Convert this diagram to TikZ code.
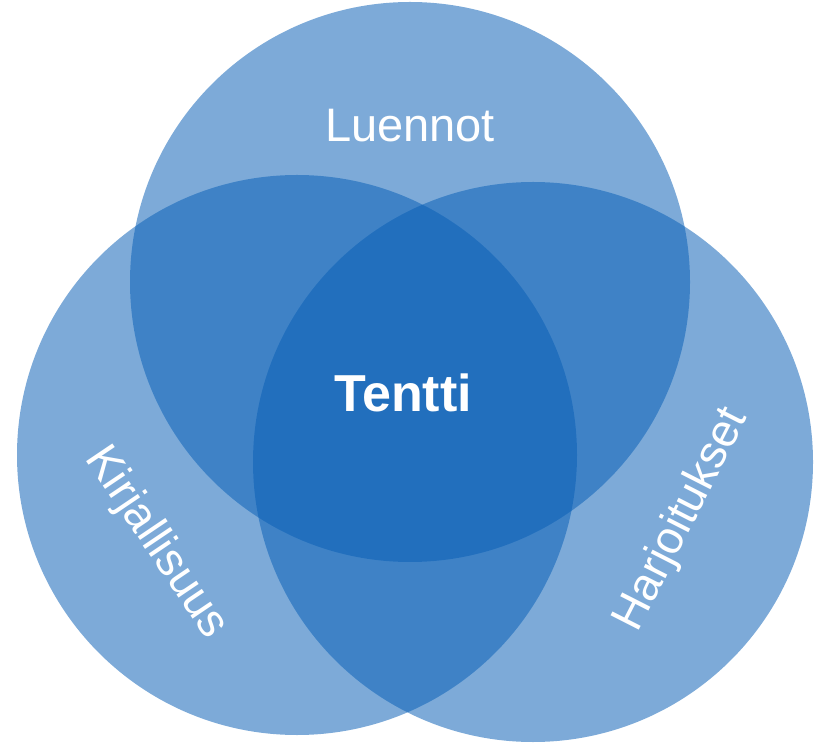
\documentclass[tikz,border=0pt]{standalone}
\usepackage{fontspec}
\setmainfont{Liberation Sans}
\definecolor{vennblue}{RGB}{9,95,182}
\tikzset{
  venn/.style={fill=vennblue,fill opacity=0.53},
  label/.style={text=white,inner sep=0pt,font=\fontsize{46}{55}\selectfont}
}
\begin{document}
\begin{tikzpicture}[x=1pt,y=1pt]
    \useasboundingbox (0,0) rectangle (816,742);
    \fill[venn] (410,460) circle (280);
    \fill[venn] (297,287) circle (280);
    \fill[venn] (533,280) circle (280);
    \node[label,font=\fontsize{47}{56}\selectfont] (luennot) at (410,616) {Luennot};
    \node[label,font=\fontsize{52}{62}\bfseries\selectfont] (tentti) at (403,349) {Tentti};
    \node[label,rotate=-56] (kirjallisuus) at (156,199) {Kirjallisuus};
    \node[label,rotate=63] (harjoitukset) at (682,222) {Harjoitukset};
\end{tikzpicture}
\end{document}
